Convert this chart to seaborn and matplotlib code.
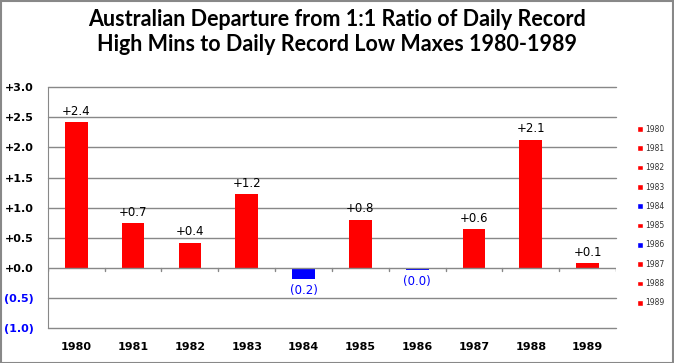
import pandas as pd
import numpy as np
import seaborn as sns
import matplotlib.pyplot as plt
from matplotlib.patches import Patch

years = ["1980", "1981", "1982", "1983", "1984", "1985", "1986", "1987", "1988", "1989"]
values = [2.42, 0.74, 0.42, 1.22, -0.18, 0.80, -0.03, 0.64, 2.13, 0.08]

df = pd.DataFrame({"year": years, "value": values})
colors = ["#ff0000" if v >= 0 else "#0000ff" for v in values]
pal = dict(zip(years, colors))

sns.set_style("white")
plt.rcParams["font.family"] = ["DejaVu Sans"]
plt.rcParams["text.color"] = "black"

fig = plt.figure(figsize=(6.74, 3.63), dpi=100)
ax = fig.add_axes([0.071, 0.096, 0.843, 0.664])

sns.barplot(data=df, x="year", y="value", hue="year", palette=pal,
            dodge=False, width=0.4, legend=False, ax=ax, saturation=1,
            linewidth=0)

ax.set_ylim(-1.0, 3.0)
ax.set_xlim(-0.5, 9.5)
yt = np.arange(-1.0, 3.01, 0.5)
ax.set_yticks(yt)
ylabels = []
for t in yt:
    ylabels.append("(%.1f)" % abs(t) if t < 0 else "+%.1f" % t)
ax.set_yticklabels(ylabels, fontsize=8, fontweight="bold")
for lab, t in zip(ax.get_yticklabels(), yt):
    lab.set_color("#0000ff" if t < 0 else "black")
ax.tick_params(axis="y", length=0, pad=10)
ax.set_xticks(range(len(years)))
ax.set_xticklabels(years, fontsize=8, fontweight="bold", color="black")
ax.tick_params(axis="x", length=0, pad=10)
ax.set_xlabel("")
ax.set_ylabel("")

for t in yt:
    if t != 0:
        ax.axhline(t, color="#888888", lw=1, zorder=0, clip_on=False)
ax.axhline(0, color="#888888", lw=1, zorder=3)
for i in range(len(years) + 1):
    ax.plot([i - 0.5, i - 0.5], [0, -0.05], color="#888888", lw=1, zorder=3)

for s in ["top", "right", "bottom"]:
    ax.spines[s].set_visible(False)
ax.spines["left"].set_color("#888888")

for i, v in enumerate(values):
    if v >= 0:
        ax.text(i, v + 0.07, "+%.1f" % v, ha="center", va="bottom", fontsize=8.5,
                color="black")
    else:
        ax.text(i, v - 0.08, "(%.1f)" % abs(v), ha="center", va="top", fontsize=8.5,
                color="#0000ff")

handles = [Patch(facecolor=pal[y], label=y) for y in years]
leg = fig.legend(handles=handles, loc="center left", bbox_to_anchor=(0.935, 0.405),
                 frameon=False, handlelength=0.8, handleheight=0.8,
                 handletextpad=0.3, labelspacing=1.35, prop={"size": 5.5})
for txt in leg.get_texts():
    txt.set_color("#333333")

fig.suptitle("Australian Departure from 1:1 Ratio of Daily Record\nHigh Mins to Daily Record Low Maxes 1980-1989",
             fontsize=15.5, fontweight="bold", y=0.975, linespacing=1.25, color="black",
             family=["Lato", "DejaVu Sans"])

fig.patches.append(plt.Rectangle((0.001, 0.001), 0.997, 0.997, transform=fig.transFigure,
                                 fill=False, edgecolor="#888888", lw=1.5))

fig.savefig("out.png", dpi=100)
